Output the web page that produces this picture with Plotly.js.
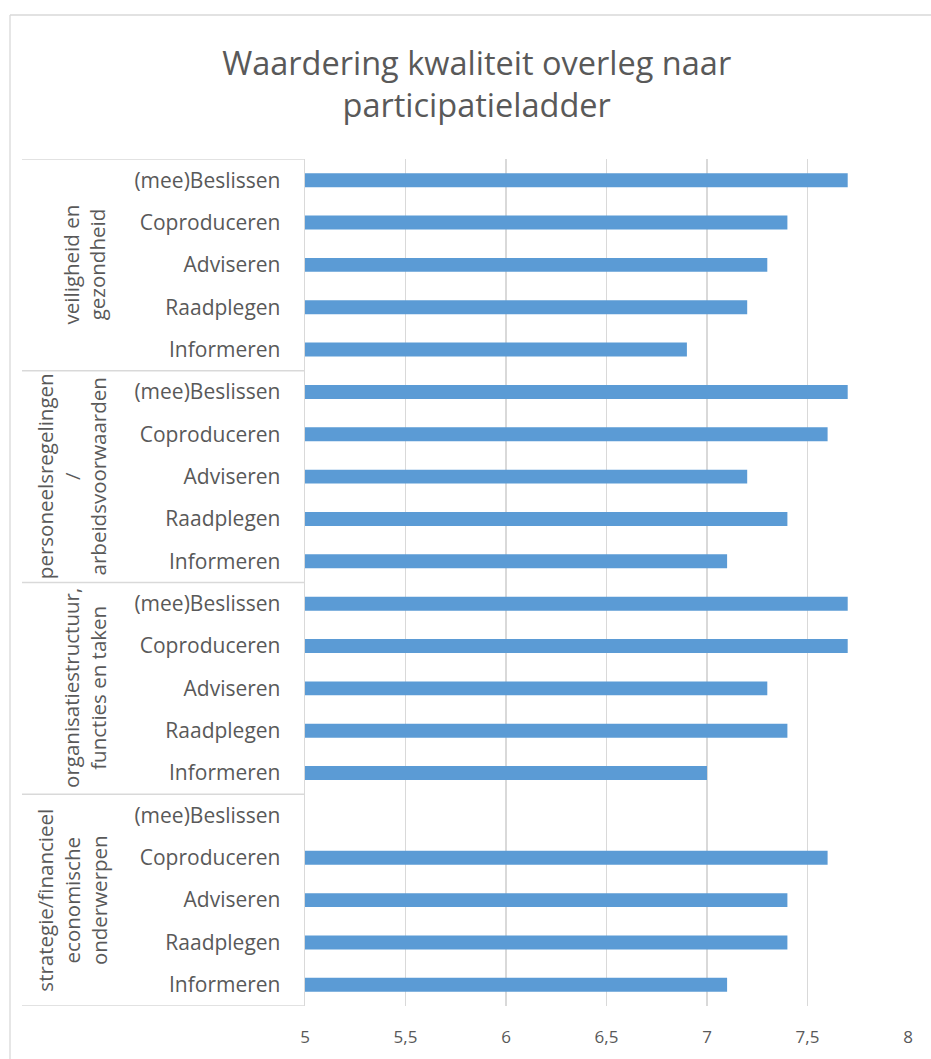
<!DOCTYPE html>
<html>
<head>
<meta charset="utf-8">
<script src="https://cdn.plot.ly/plotly-3.0.1.min.js"></script>
<style>html,body{margin:0;padding:0;background:#fff;}#chart{width:931px;height:1059px;}</style>
</head>
<body>
<div id="chart"></div>
<script>
// Data (top-to-bottom display order)
const groups = [
  "veiligheid en<br>gezondheid",
  "personeelsregelingen<br>/<br>arbeidsvoorwaarden",
  "organisatiestructuur,<br>functies en taken",
  "strategie/financieel<br>economische<br>onderwerpen"
];
const levels = ["(mee)Beslissen", "Coproduceren", "Adviseren", "Raadplegen", "Informeren"];
const valuesVeiligheid   = [7.7, 7.4, 7.3, 7.2, 6.9];
const valuesPersoneel    = [7.7, 7.6, 7.2, 7.4, 7.1];
const valuesOrganisatie  = [7.7, 7.7, 7.3, 7.4, 7.0];
const valuesStrategie    = [null, 7.6, 7.4, 7.4, 7.1];
const xTicks = [5, 5.5, 6, 6.5, 7, 7.5, 8];

const allValues = [valuesVeiligheid, valuesPersoneel, valuesOrganisatie, valuesStrategie];
const yPos = [], xVals = [], tickText = [];
allValues.forEach((vals, g) => {
  vals.forEach((v, i) => {
    yPos.push(g * levels.length + i);
    xVals.push(v);
    tickText.push(levels[i]);
  });
});

const textColor = "#595959";
const lineColor = "#d9d9d9";
const fontFam = "'Open Sans', sans-serif";

// plot area pixel geometry helpers for decoration
const W = 931, H = 1059;
const mL = 305, mR = 23, mT = 159, mB = 53;
const pw = W - mL - mR, ph = H - mT - mB;
const px = x => (x - mL) / pw;
const py = y => 1 - (y - mT) / ph;

const shapes = [];
for (let g = 0; g <= groups.length; g++) {
  shapes.push({type: "line", xref: "paper", yref: "y",
    x0: px(22), x1: 0, y0: g * levels.length - 0.5, y1: g * levels.length - 0.5,
    line: {color: lineColor, width: 1.3}});
}
// outer chart border
shapes.push({type: "line", xref: "paper", yref: "paper", x0: px(10), x1: px(940), y0: py(15), y1: py(15), line: {color: lineColor, width: 1.3}});
shapes.push({type: "line", xref: "paper", yref: "paper", x0: px(10), x1: px(10), y0: py(15), y1: py(1070), line: {color: lineColor, width: 1.3}});

const annotations = groups.map((gname, g) => ({
  text: gname, xref: "paper", yref: "y",
  x: px(114), y: g * levels.length + (levels.length - 1) / 2,
  xanchor: "right", yanchor: "middle",
  textangle: -90, showarrow: false,
  font: {family: fontFam, size: 20.5, color: textColor}
}));

const trace = {
  type: "bar", orientation: "h",
  x: xVals, y: yPos,
  base: 0,
  marker: {color: "#5B9BD5"},
  width: 0.33,
  hoverinfo: "x"
};

const layout = {
  width: W, height: H,
  margin: {l: mL, r: mR, t: mT, b: mB},
  paper_bgcolor: "#fff", plot_bgcolor: "#fff",
  separators: ",.",
  title: {text: "Waardering kwaliteit overleg naar<br>participatieladder",
    font: {family: fontFam, size: 32.5, color: textColor},
    x: 0.512, xanchor: "center", yref: "container", y: 1 - 75 / H, yanchor: "middle"},
  showlegend: false,
  xaxis: {range: [5, 8], tickvals: xTicks, ticktext: xTicks.map(v => String(v).replace(".", ",")),
    showgrid: true, gridcolor: lineColor, gridwidth: 1.3,
    zeroline: false, showline: false, ticks: "", ticklabelstandoff: 19,
    tickfont: {family: fontFam, size: 17, color: textColor}},
  yaxis: {range: [19.5, -0.5], tickvals: yPos, ticktext: tickText,
    showgrid: false, zeroline: false, showline: true, linecolor: lineColor, linewidth: 1.3,
    ticks: "", ticklabelstandoff: 19,
    tickfont: {family: fontFam, size: 21, color: textColor}},
  shapes: shapes,
  annotations: annotations,
  bargap: 0.67
};

Plotly.newPlot("chart", [trace], layout, {displayModeBar: false, staticPlot: true});
</script>
</body>
</html>
